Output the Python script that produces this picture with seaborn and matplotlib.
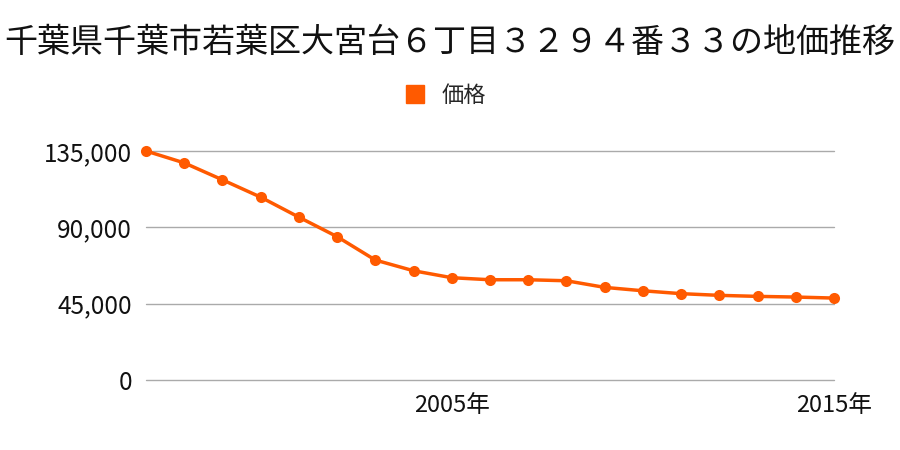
import matplotlib
matplotlib.use("Agg")
import matplotlib.pyplot as plt
import seaborn as sns
import pandas as pd
from matplotlib.lines import Line2D

years = list(range(1997, 2016))
prices = [135000, 128000, 118000, 107800, 96000, 84500, 70700, 64400, 60300,
          59100, 59100, 58500, 54600, 52600, 50900, 49900, 49300, 48900, 48300]
yticks = [0, 45000, 90000, 135000]
xticks = [2005, 2015]
title = "千葉県千葉市若葉区大宮台６丁目３２９４番３３の地価推移"
series_name = "価格"
color = "#ff5a00"

sns.set_theme(style="white")
plt.rcParams['font.family'] = ['Noto Sans CJK JP', 'DejaVu Sans']

df = pd.DataFrame({"year": years, "price": prices})

fig = plt.figure(figsize=(9, 4.5), dpi=100)
ax = fig.add_axes([146/900, 1 - 380/450, (834 - 146)/900, (380 - 151)/450])

sns.lineplot(data=df, x="year", y="price", ax=ax, color=color, linewidth=2.5,
             marker="o", markersize=8, markeredgewidth=0, clip_on=False, zorder=3)

ax.set_xlim(1997, 2015)
ax.set_ylim(0, 135000)
ax.set_yticks(yticks)
ax.set_yticklabels([f"{v:,}" for v in yticks], fontsize=17.5)
ax.set_xticks(xticks)
ax.set_xticklabels([f"{v}年" for v in xticks], fontsize=17)
ax.tick_params(axis='y', length=0, pad=10, colors="#111111")
ax.tick_params(axis='x', length=0, pad=10, colors="#111111")
ax.grid(axis='y', color="#aaaaaa", linewidth=1)
ax.grid(axis='x', visible=False)
for gl in ax.get_ygridlines():
    gl.set_clip_on(False)
for s in ax.spines.values():
    s.set_visible(False)
ax.set_xlabel("")
ax.set_ylabel("")

fig.text(0.5, 1 - 42/450, title, ha="center", va="center", fontsize=23.8, color="#111111")

handle = Line2D([], [], marker="s", color=color, linestyle="none", markersize=13)
fig.legend([handle], [series_name], loc="center", bbox_to_anchor=(439/900, 1 - 95/450),
           frameon=False, fontsize=16, handletextpad=0.2)

fig.savefig("out.png", dpi=100)
